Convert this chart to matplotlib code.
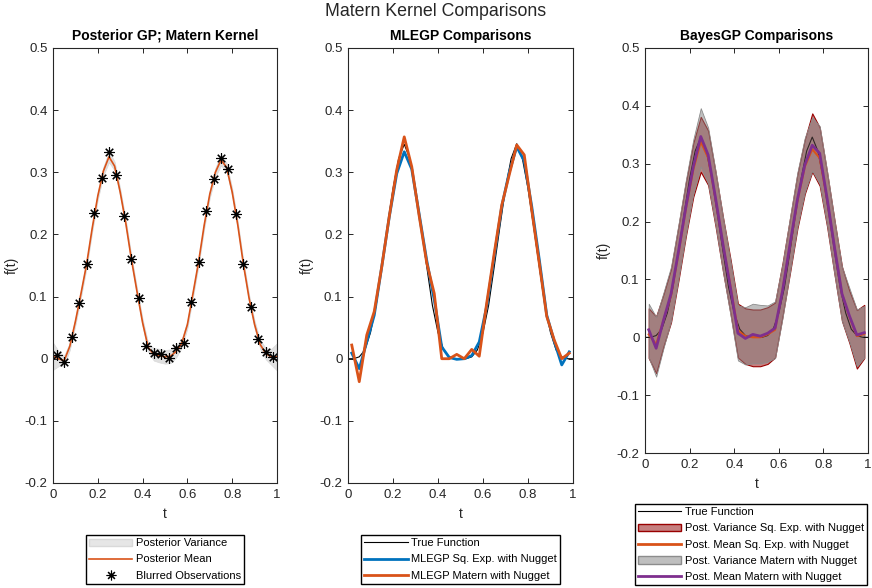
import numpy as np
import matplotlib
matplotlib.use("Agg")
import matplotlib.pyplot as plt
from matplotlib.lines import Line2D
from matplotlib.patches import Patch

plt.rcParams['font.family'] = ['Liberation Sans', 'DejaVu Sans']

# ---------------------------------------------------------------- data
# dense grid for the smooth curves
t_fine = np.linspace(0.0, 1.0, 41)
true_f = [0.000, 0.000, 0.003, 0.014, 0.042, 0.086, 0.148, 0.212, 0.274, 0.322,
          0.345, 0.322, 0.274, 0.212, 0.148, 0.086, 0.042, 0.014, 0.003, 0.000,
          0.000, 0.000, 0.003, 0.014, 0.042, 0.086, 0.148, 0.212, 0.274, 0.322,
          0.346, 0.322, 0.274, 0.212, 0.148, 0.086, 0.042, 0.014, 0.003, 0.000,
          0.000]

post_mean = [0.004, 0.000, -0.003, 0.020, 0.060, 0.105, 0.152, 0.210, 0.262, 0.302,
             0.325, 0.310, 0.268, 0.218, 0.160, 0.108, 0.058, 0.018, 0.007, 0.005,
             0.003, 0.004, 0.012, 0.025, 0.055, 0.105, 0.156, 0.215, 0.265, 0.300,
             0.320, 0.308, 0.268, 0.215, 0.152, 0.098, 0.055, 0.023, 0.008, 0.003,
             0.003]
post_halfwidth = [0.022, 0.012, 0.008, 0.006, 0.006, 0.006, 0.006, 0.006, 0.006, 0.007,
                  0.009, 0.007, 0.006, 0.006, 0.006, 0.006, 0.006, 0.007, 0.010, 0.011,
                  0.011, 0.011, 0.010, 0.007, 0.006, 0.006, 0.006, 0.006, 0.006, 0.007,
                  0.009, 0.007, 0.006, 0.006, 0.006, 0.006, 0.006, 0.007, 0.009, 0.013,
                  0.022]

# design points
t_obs = (np.arange(30) + 0.5) / 30.0
y_obs = [0.006, -0.005, 0.035, 0.090, 0.152, 0.234, 0.290, 0.332, 0.296, 0.229,
         0.160, 0.098, 0.021, 0.009, 0.007, 0.001, 0.017, 0.025, 0.092, 0.156,
         0.237, 0.289, 0.323, 0.305, 0.233, 0.152, 0.084, 0.032, 0.010, 0.002]

mlegp_sqexp = [0.009, -0.016, 0.027, 0.070, 0.148, 0.228, 0.298, 0.333, 0.305, 0.232,
               0.158, 0.095, 0.019, 0.002, -0.001, 0.000, 0.005, 0.027, 0.085, 0.165,
               0.245, 0.300, 0.341, 0.318, 0.245, 0.160, 0.070, 0.028, -0.010, 0.011]
mlegp_matern = [0.022, -0.037, 0.038, 0.076, 0.148, 0.229, 0.304, 0.357, 0.309, 0.229,
                0.154, 0.105, 0.000, 0.000, 0.007, 0.000, 0.015, 0.004, 0.090, 0.170,
                0.247, 0.296, 0.344, 0.328, 0.239, 0.154, 0.068, 0.030, 0.000, 0.009]

bgp_sq_mean = [0.005, -0.012, 0.030, 0.072, 0.145, 0.222, 0.290, 0.338, 0.310, 0.238,
               0.160, 0.088, 0.012, 0.002, 0.000, 0.000, 0.005, 0.013, 0.082, 0.158,
               0.235, 0.295, 0.325, 0.310, 0.238, 0.155, 0.075, 0.035, 0.002, 0.006]
bgp_sq_upper = [0.050, 0.036, 0.075, 0.118, 0.192, 0.268, 0.336, 0.381, 0.357, 0.285,
                0.207, 0.135, 0.058, 0.050, 0.048, 0.048, 0.052, 0.060, 0.128, 0.205,
                0.282, 0.342, 0.387, 0.363, 0.285, 0.202, 0.122, 0.080, 0.047, 0.056]
bgp_sq_lower = [-0.036, -0.062, -0.015, 0.026, 0.098, 0.175, 0.243, 0.286, 0.263, 0.191,
                0.113, 0.041, -0.035, -0.046, -0.050, -0.050, -0.046, -0.035, 0.036, 0.111,
                0.188, 0.248, 0.286, 0.262, 0.191, 0.108, 0.028, -0.010, -0.054, -0.036]

bgp_mat_mean = [0.013, -0.019, 0.030, 0.075, 0.148, 0.225, 0.295, 0.347, 0.315, 0.240,
                0.160, 0.085, 0.007, -0.002, 0.005, 0.002, 0.007, 0.016, 0.080, 0.160,
                0.238, 0.298, 0.332, 0.318, 0.240, 0.155, 0.075, 0.037, 0.004, 0.008]
bgp_mat_upper = [0.058, 0.035, 0.078, 0.122, 0.195, 0.272, 0.342, 0.396, 0.362, 0.287,
                 0.207, 0.132, 0.055, 0.052, 0.058, 0.056, 0.055, 0.062, 0.127, 0.207,
                 0.285, 0.345, 0.380, 0.365, 0.287, 0.202, 0.122, 0.085, 0.048, 0.054]
bgp_mat_lower = [-0.035, -0.068, -0.018, 0.028, 0.101, 0.178, 0.248, 0.295, 0.265, 0.193,
                 0.113, 0.038, -0.040, -0.047, -0.045, -0.045, -0.042, -0.036, 0.033, 0.113,
                 0.191, 0.251, 0.288, 0.265, 0.193, 0.108, 0.028, -0.008, -0.050, -0.035]

x_ticks = [0, 0.2, 0.4, 0.6, 0.8, 1]
x_labels = ['0', '0.2', '0.4', '0.6', '0.8', '1']
y_ticks = [-0.2, -0.1, 0, 0.1, 0.2, 0.3, 0.4, 0.5]
y_labels = ['-0.2', '-0.1', '0', '0.1', '0.2', '0.3', '0.4', '0.5']

# ---------------------------------------------------------------- styles
BLUE = (0.0, 0.447, 0.741)
ORANGE = (0.85, 0.325, 0.098)
PURPLE = (0.494, 0.184, 0.556)
AXC = (0.15, 0.15, 0.15)
ASTERISK = (8, 2, 0)

W, H = 872, 588
fig = plt.figure(figsize=(W / 100, H / 100), dpi=100)


def frac(left, top, right, bottom):
    return [left / W, 1 - bottom / H, (right - left) / W, (bottom - top) / H]


def style_axes(ax, title):
    ax.set_xlim(0, 1)
    ax.set_ylim(-0.2, 0.5)
    ax.set_xticks(x_ticks)
    ax.set_xticklabels(x_labels)
    ax.set_yticks(y_ticks)
    ax.set_yticklabels(y_labels)
    ax.tick_params(direction='in', length=3.5, width=0.7, colors=AXC,
                   labelsize=9.5, top=True, right=True, pad=4)
    for s in ax.spines.values():
        s.set_color(AXC)
        s.set_linewidth(0.8)
    ax.set_xlabel('t', fontsize=10, color=AXC, labelpad=5)
    ax.set_ylabel('f(t)', fontsize=10, color=AXC, labelpad=4)
    ax.set_title(title, fontsize=10, fontweight='bold', color='black', pad=6)


leg_kw = dict(fontsize=8, frameon=True, fancybox=False, edgecolor='black',
              framealpha=1, labelspacing=0.55, handlelength=3.9,
              handletextpad=0.3, borderpad=0.3, borderaxespad=0)

# ---------------------------------------------------------------- panel 1
ax1 = fig.add_axes(frac(53, 48, 277, 483))
lo = np.array(post_mean) - np.array(post_halfwidth)
hi = np.array(post_mean) + np.array(post_halfwidth)
ax1.fill_between(t_fine, lo, hi, facecolor=(0.88, 0.88, 0.88),
                 edgecolor=(0.85, 0.85, 0.85), linewidth=0.5)
ax1.plot(t_fine, post_mean, color=ORANGE, linewidth=1.2)
ax1.plot(t_obs, y_obs, linestyle='none', marker=ASTERISK, markersize=7.5,
         markeredgewidth=0.8, color='black')
style_axes(ax1, 'Posterior GP; Matern Kernel')
h1 = [Patch(facecolor=(0.9, 0.9, 0.9), edgecolor=(0.85, 0.85, 0.85)),
      Line2D([], [], color=ORANGE, linewidth=1.2),
      Line2D([], [], linestyle='none', marker=ASTERISK, markersize=7,
             markeredgewidth=0.8, color='black')]
fig.legend(h1, ['Posterior Variance', 'Posterior Mean', 'Blurred Observations'],
           loc='upper center', bbox_to_anchor=(165 / W, 1 - 535 / H), **leg_kw)

# ---------------------------------------------------------------- panel 2
ax2 = fig.add_axes(frac(348, 48, 573, 483))
ax2.plot(t_fine, true_f, color='black', linewidth=0.8)
ax2.plot(t_obs, mlegp_sqexp, color=BLUE, linewidth=2.0)
ax2.plot(t_obs, mlegp_matern, color=ORANGE, linewidth=2.0)
style_axes(ax2, 'MLEGP Comparisons')
h2 = [Line2D([], [], color='black', linewidth=0.8),
      Line2D([], [], color=BLUE, linewidth=2.0),
      Line2D([], [], color=ORANGE, linewidth=2.0)]
fig.legend(h2, ['True Function', 'MLEGP Sq. Exp. with Nugget', 'MLEGP Matern with Nugget'],
           loc='upper center', bbox_to_anchor=(460.5 / W, 1 - 535 / H), **leg_kw)

# ---------------------------------------------------------------- panel 3
ax3 = fig.add_axes(frac(645, 48, 868, 453))
red_face = (0.55, 0.0, 0.0, 0.5)
red_edge = (0.6, 0.0, 0.0, 1.0)
grey_face = (0.5, 0.5, 0.5, 0.5)
grey_edge = (0.55, 0.55, 0.55, 1.0)
ax3.fill_between(t_obs, bgp_sq_lower, bgp_sq_upper, facecolor=red_face,
                 edgecolor=red_edge, linewidth=0.8)
ax3.fill_between(t_obs, bgp_mat_lower, bgp_mat_upper, facecolor=grey_face,
                 edgecolor=grey_edge, linewidth=0.6)
ax3.plot(t_fine, true_f, color='black', linewidth=0.8, alpha=0.7)
ax3.plot(t_obs, bgp_sq_mean, color=ORANGE, linewidth=1.5)
ax3.plot(t_obs, bgp_mat_mean, color=PURPLE, linewidth=2.0)
style_axes(ax3, 'BayesGP Comparisons')
h3 = [Line2D([], [], color='black', linewidth=0.8),
      Patch(facecolor=red_face, edgecolor=red_edge),
      Line2D([], [], color=ORANGE, linewidth=2.0),
      Patch(facecolor=grey_face, edgecolor=grey_edge),
      Line2D([], [], color=PURPLE, linewidth=2.0)]
fig.legend(h3, ['True Function', 'Post. Variance Sq. Exp. with Nugget',
                'Post. Mean Sq. Exp. with Nugget', 'Post. Variance Matern with Nugget',
                'Post. Mean Matern with Nugget'],
           loc='upper center', bbox_to_anchor=(751 / W, 1 - 504 / H), **leg_kw)

fig.suptitle('Matern Kernel Comparisons', fontsize=12.8, color=AXC, y=1 - 3 / H,
             va='top')

fig.savefig('out.png', dpi=100)
